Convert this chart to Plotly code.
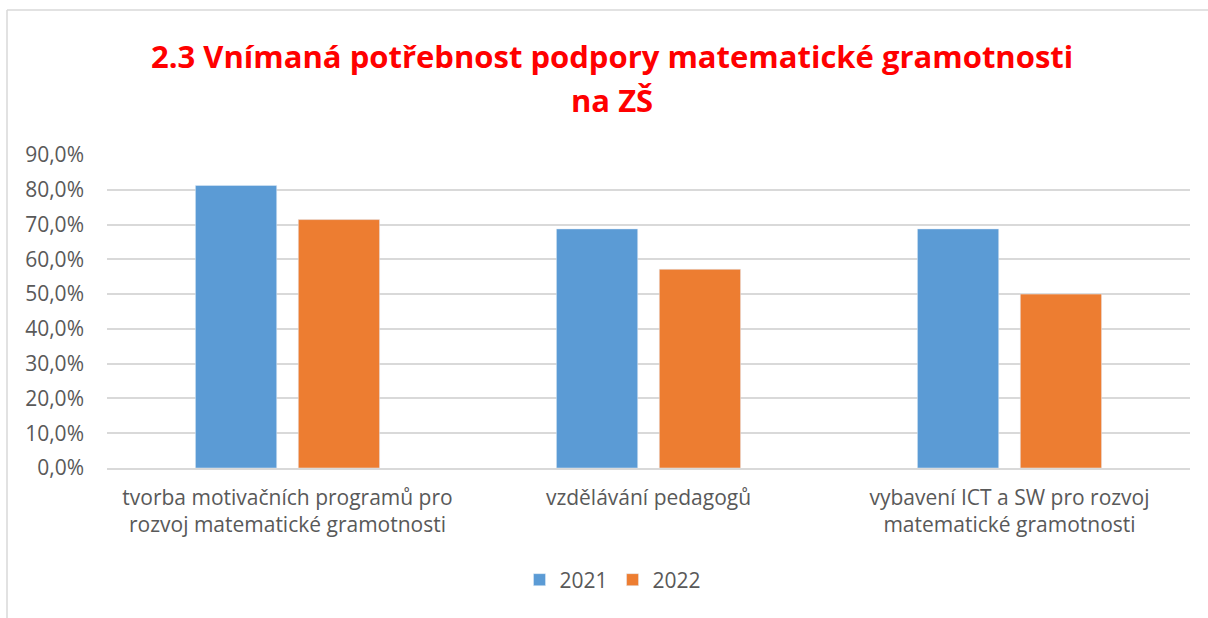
import plotly.graph_objects as go

categories = [
    "tvorba motivačních programů pro<br>rozvoj matematické gramotnosti",
    "vzdělávání pedagogů",
    "vybavení ICT a SW pro rozvoj<br>matematické gramotnosti",
]
series_names = ["2021", "2022"]
values_2021 = [0.8125, 0.6875, 0.6875]
values_2022 = [0.7143, 0.5714, 0.50]
y_ticks = [0, 0.1, 0.2, 0.3, 0.4, 0.5, 0.6, 0.7, 0.8, 0.9]

W, H = 1208, 618
ML, MR, MT, MB = 107, 18, 155, 150
plot_w = W - ML - MR
plot_h = H - MT - MB

FONT = "Open Sans"
GREY = "#595959"
TXT = 21

fig = go.Figure()
fig.add_bar(name=series_names[0], x=categories, y=values_2021, marker_color="#5B9BD5")
fig.add_bar(name=series_names[1], x=categories, y=values_2022, marker_color="#ED7D31")


def px_x(px):
    return (px - ML) / plot_w


def px_y(py):
    return (H - MB - py) / plot_h


# outer chart frame (left and top edges)
frame = dict(type="line", xref="paper", yref="paper", line=dict(color="#d9d9d9", width=1.5))
fig.add_shape(frame, x0=px_x(7), x1=px_x(7), y0=px_y(10), y1=px_y(H + 5))
fig.add_shape(frame, x0=px_x(7), x1=px_x(W + 5), y0=px_y(10), y1=px_y(10))

# chart heading, two lines
heading = ["2.3 Vnímaná potřebnost podpory matematické gramotnosti", "na ZŠ"]
for line, ypx in zip(heading, [56, 100]):
    fig.add_annotation(
        text=f"<b>{line}</b>",
        font=dict(family=FONT, size=31, color="#FF0000"),
        xref="paper", yref="paper",
        x=px_x(612), y=px_y(ypx),
        xanchor="center", yanchor="middle",
        showarrow=False,
    )

fig.update_layout(
    width=W,
    height=H,
    margin=dict(l=ML, r=MR, t=MT, b=MB, autoexpand=False),
    paper_bgcolor="white",
    plot_bgcolor="white",
    separators=", ",
    barmode="group",
    bargap=0.43,
    bargroupgap=0.21,
    font=dict(family=FONT, color=GREY, size=TXT),
    legend=dict(
        orientation="h",
        x=613 / W,
        xanchor="center",
        xref="container",
        y=1 - 580 / H,
        yanchor="middle",
        yref="container",
        font=dict(family=FONT, size=TXT, color=GREY),
        itemwidth=30,
        traceorder="normal",
    ),
    xaxis=dict(
        showgrid=False,
        showline=True,
        linecolor="#d9d9d9",
        linewidth=1.5,
        ticks="",
        ticklabelstandoff=10,
        tickfont=dict(family=FONT, size=TXT, color=GREY),
    ),
    yaxis=dict(
        range=[0, 0.9],
        tickvals=y_ticks,
        tickformat=".1%",
        showgrid=True,
        gridcolor="#d9d9d9",
        gridwidth=1.5,
        zeroline=False,
        showline=False,
        ticks="",
        ticklabelstandoff=22,
        tickfont=dict(family=FONT, size=TXT, color=GREY),
    ),
)

fig.write_html("out.html")
